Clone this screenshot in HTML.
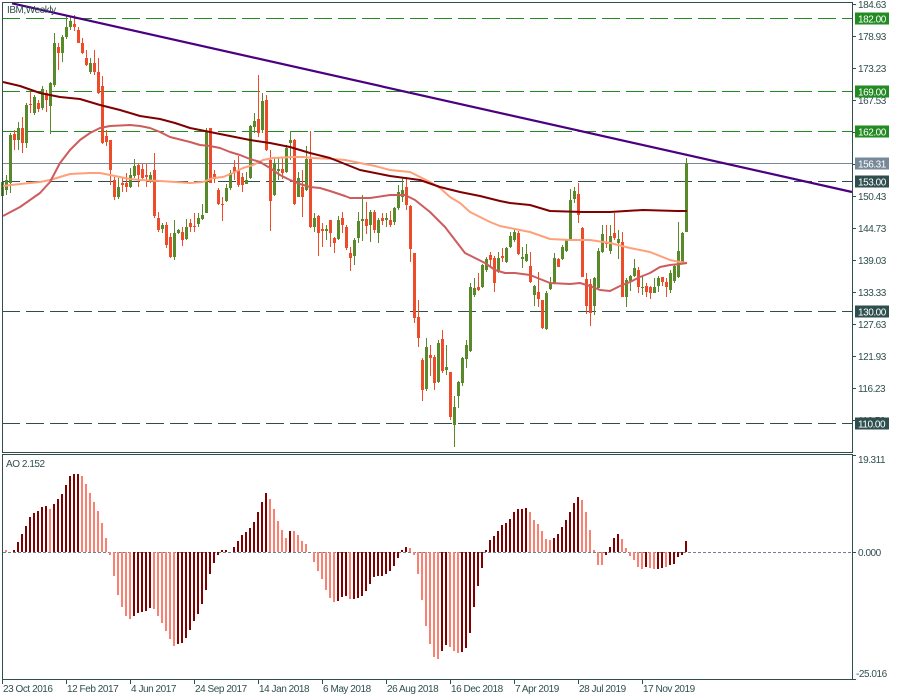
<!DOCTYPE html>
<html><head><meta charset="utf-8"><style>
html,body{margin:0;padding:0;background:#fff;}
svg{display:block;}
text{font-family:"Liberation Sans",sans-serif;font-size:10px;fill:#2F4F4F;letter-spacing:-0.45px;}
</style></head><body>
<svg width="900" height="700" viewBox="0 0 900 700" xmlns="http://www.w3.org/2000/svg">
<rect x="0" y="0" width="900" height="700" fill="#fff"/>

<!-- horizontal level lines -->
<g fill="none" stroke-width="1" shape-rendering="crispEdges">
<line x1="2" y1="18.5" x2="852" y2="18.5" stroke="#228B22" stroke-dasharray="18 6"/>
<line x1="2" y1="91.5" x2="852" y2="91.5" stroke="#228B22" stroke-dasharray="18 6"/>
<line x1="2" y1="131.5" x2="852" y2="131.5" stroke="#228B22" stroke-dasharray="18 6"/>
<line x1="2" y1="163.5" x2="852" y2="163.5" stroke="#778899"/>
<line x1="2" y1="181.5" x2="852" y2="181.5" stroke="#2F4F4F" stroke-dasharray="18 6"/>
<line x1="2" y1="311.5" x2="852" y2="311.5" stroke="#2F4F4F" stroke-dasharray="18 6"/>
<line x1="2" y1="423.5" x2="852" y2="423.5" stroke="#2F4F4F" stroke-dasharray="18 6"/>
</g>

<!-- candles green -->
<path shape-rendering="crispEdges" fill="#588a2c" d="
M1 182h3v14h-3z M2 173h1v24h-1z
M5 180h3v10h-3z M6 175h1v20h-1z
M9 135h3v48h-3z M10 133h1v60h-1z
M17 128h3v12h-3z M18 122h1v28h-1z
M25 105h3v38h-3z M26 103h1v45h-1z
M33 97h3v16h-3z M34 95h1v20h-1z
M41 89h3v19h-3z M42 86h1v24h-1z
M49 83h3v23h-3z M50 82h1v52h-1z
M53 43h3v42h-3z M54 33h1v54h-1z
M61 37h3v16h-3z M62 35h1v27h-1z
M65 27h3v10h-3z M66 16h1v23h-1z
M69 21h3v6h-3z M70 16h1v14h-1z
M89 63h3v9h-3z M90 58h1v16h-1z
M117 187h3v10h-3z M118 178h1v21h-1z
M129 175h3v12h-3z M130 168h1v20h-1z
M133 166h3v10h-3z M134 159h1v19h-1z
M149 175h3v7h-3z M150 172h1v11h-1z
M161 225h3v4h-3z M162 223h1v10h-1z
M173 233h3v24h-3z M174 220h1v40h-1z
M177 230h3v3h-3z M178 229h1v5h-1z
M185 227h3v12h-3z M186 219h1v21h-1z
M197 218h3v6h-3z M198 213h1v14h-1z
M201 215h3v4h-3z M202 204h1v16h-1z
M205 132h3v81h-3z M206 128h1v85h-1z
M225 188h3v13h-3z M226 184h1v18h-1z
M229 173h3v15h-3z M230 170h1v20h-1z
M245 180h3v4h-3z M246 172h1v12h-1z
M249 126h3v52h-3z M250 125h1v54h-1z
M253 121h3v6h-3z M254 113h1v20h-1z
M261 101h3v29h-3z M262 93h1v40h-1z
M273 163h3v32h-3z M274 157h1v39h-1z
M277 169h3v2h-3z M278 158h1v22h-1z
M285 148h3v24h-3z M286 145h1v28h-1z
M289 140h3v3h-3z M290 131h1v29h-1z
M297 178h3v19h-3z M298 172h1v25h-1z
M305 159h3v31h-3z M306 146h1v45h-1z
M313 218h3v9h-3z M314 213h1v19h-1z
M325 229h3v2h-3z M326 225h1v15h-1z
M337 220h3v19h-3z M338 216h1v24h-1z
M353 240h3v16h-3z M354 238h1v27h-1z
M357 221h3v17h-3z M358 212h1v31h-1z
M361 219h3v2h-3z M362 195h1v46h-1z
M369 212h3v13h-3z M370 210h1v32h-1z
M377 220h3v13h-3z M378 218h1v25h-1z
M385 218h3v2h-3z M386 213h1v14h-1z
M393 208h3v14h-3z M394 207h1v18h-1z
M397 192h3v16h-3z M398 185h1v25h-1z
M401 190h3v7h-3z M402 178h1v24h-1z
M425 347h3v42h-3z M426 338h1v53h-1z
M437 343h3v39h-3z M438 340h1v43h-1z
M445 367h3v3h-3z M446 345h1v30h-1z
M453 407h3v18h-3z M454 396h1v51h-1z
M457 382h3v14h-3z M458 381h1v27h-1z
M461 358h3v25h-3z M462 357h1v29h-1z
M465 345h3v14h-3z M466 340h1v28h-1z
M469 287h3v64h-3z M470 283h1v69h-1z
M473 288h3v7h-3z M474 278h1v19h-1z
M481 265h3v22h-3z M482 264h1v24h-1z
M485 259h3v11h-3z M486 257h1v15h-1z
M497 258h3v14h-3z M498 252h1v21h-1z
M505 248h3v14h-3z M506 247h1v16h-1z
M509 236h3v11h-3z M510 232h1v16h-1z
M513 232h3v8h-3z M514 228h1v14h-1z
M521 257h3v2h-3z M522 247h1v21h-1z
M525 254h3v7h-3z M526 244h1v18h-1z
M533 286h3v9h-3z M534 285h1v21h-1z
M545 293h3v36h-3z M546 291h1v39h-1z
M549 283h3v6h-3z M550 277h1v13h-1z
M553 258h3v25h-3z M554 253h1v30h-1z
M561 247h3v12h-3z M562 245h1v15h-1z
M565 240h3v11h-3z M566 240h1v12h-1z
M569 200h3v40h-3z M570 189h1v52h-1z
M573 191h3v8h-3z M574 187h1v16h-1z
M593 278h3v28h-3z M594 277h1v38h-1z
M597 251h3v37h-3z M598 248h1v41h-1z
M601 234h3v18h-3z M602 225h1v28h-1z
M609 236h3v15h-3z M610 225h1v29h-1z
M617 239h3v4h-3z M618 230h1v29h-1z
M625 280h3v17h-3z M626 278h1v29h-1z
M629 276h3v5h-3z M630 275h1v16h-1z
M633 268h3v8h-3z M634 259h1v18h-1z
M641 287h3v1h-3z M642 276h1v19h-1z
M653 287h3v6h-3z M654 278h1v15h-1z
M657 278h3v8h-3z M658 276h1v16h-1z
M669 273h3v17h-3z M670 270h1v23h-1z
M673 266h3v15h-3z M674 264h1v19h-1z
M677 251h3v26h-3z M678 222h1v56h-1z
M681 233h3v29h-3z M682 232h1v31h-1z
M685 163h3v69h-3z M686 158h1v74h-1z"/>

<!-- candles red -->
<path shape-rendering="crispEdges" fill="#ee4b2b" d="
M13 134h3v6h-3z M14 130h1v20h-1z
M21 128h3v15h-3z M22 117h1v36h-1z
M29 104h3v1h-3z M30 92h1v21h-1z
M37 103h3v6h-3z M38 100h1v12h-1z
M45 93h3v7h-3z M46 90h1v22h-1z
M57 47h3v6h-3z M58 43h1v27h-1z
M73 24h3v3h-3z M74 15h1v16h-1z
M77 30h3v13h-3z M78 27h1v16h-1z
M81 43h3v10h-3z M82 38h1v16h-1z
M85 58h3v7h-3z M86 50h1v16h-1z
M93 63h3v9h-3z M94 50h1v25h-1z
M97 72h3v21h-3z M98 58h1v36h-1z
M101 86h3v57h-3z M102 76h1v68h-1z
M105 136h3v6h-3z M106 130h1v16h-1z
M109 140h3v30h-3z M110 140h1v45h-1z
M113 180h3v17h-3z M114 177h1v23h-1z
M121 183h3v2h-3z M122 178h1v14h-1z
M125 183h3v4h-3z M126 173h1v19h-1z
M137 165h3v10h-3z M138 163h1v24h-1z
M141 169h3v9h-3z M142 164h1v15h-1z
M145 175h3v2h-3z M146 164h1v23h-1z
M153 170h3v46h-3z M154 153h1v65h-1z
M157 218h3v12h-3z M158 212h1v20h-1z
M165 225h3v20h-3z M166 222h1v26h-1z
M169 237h3v20h-3z M170 233h1v25h-1z
M181 232h3v8h-3z M182 227h1v19h-1z
M189 223h3v4h-3z M190 219h1v13h-1z
M193 226h3v1h-3z M194 213h1v19h-1z
M209 128h3v55h-3z
M213 174h3v5h-3z M214 170h1v13h-1z
M217 190h3v14h-3z M218 188h1v17h-1z
M221 204h3v1h-3z M222 197h1v24h-1z
M233 167h3v5h-3z M234 160h1v20h-1z
M237 170h3v15h-3z M238 156h1v31h-1z
M241 177h3v8h-3z M242 173h1v19h-1z
M257 119h3v14h-3z M258 75h1v62h-1z
M265 100h3v50h-3z M266 95h1v56h-1z
M269 160h3v41h-3z M270 150h1v81h-1z
M281 169h3v4h-3z M282 158h1v21h-1z
M293 140h3v64h-3z M294 139h1v66h-1z
M301 187h3v10h-3z M302 170h1v47h-1z
M309 159h3v68h-3z M310 131h1v97h-1z
M317 216h3v17h-3z M318 215h1v41h-1z
M321 229h3v2h-3z M322 223h1v24h-1z
M329 220h3v13h-3z M330 220h1v27h-1z
M333 238h3v5h-3z M334 237h1v16h-1z
M341 218h3v7h-3z M342 212h1v21h-1z
M345 227h3v21h-3z M346 225h1v25h-1z
M349 253h3v5h-3z M350 247h1v24h-1z
M365 219h3v7h-3z M366 202h1v32h-1z
M373 212h3v18h-3z M374 210h1v23h-1z
M381 218h3v3h-3z M382 213h1v12h-1z
M389 220h3v5h-3z M390 211h1v16h-1z
M405 187h3v18h-3z M406 177h1v33h-1z
M409 206h3v43h-3z M410 205h1v57h-1z
M413 253h3v65h-3z M414 253h1v70h-1z
M417 317h3v21h-3z M418 300h1v47h-1z
M421 360h3v30h-3z M422 358h1v43h-1z
M429 355h3v3h-3z M430 345h1v31h-1z
M433 357h3v26h-3z M434 355h1v35h-1z
M441 339h3v32h-3z M442 330h1v43h-1z
M449 372h3v45h-3z M450 372h1v48h-1z
M477 287h3v3h-3z M478 273h1v18h-1z
M489 255h3v5h-3z M490 252h1v16h-1z
M493 258h3v25h-3z M494 256h1v36h-1z
M501 256h3v2h-3z M502 248h1v14h-1z
M517 233h3v21h-3z M518 231h1v24h-1z
M529 266h3v16h-3z M530 252h1v31h-1z
M537 292h3v7h-3z M538 272h1v35h-1z
M541 300h3v28h-3z M542 300h1v29h-1z
M557 259h3v8h-3z M558 258h1v9h-1z
M577 194h3v21h-3z M578 183h1v40h-1z
M581 228h3v49h-3z M582 227h1v50h-1z
M585 279h3v27h-3z M586 273h1v41h-1z
M589 284h3v29h-3z M590 279h1v47h-1z
M605 243h3v1h-3z M606 225h1v23h-1z
M613 233h3v5h-3z M614 213h1v27h-1z
M621 242h3v55h-3z M622 232h1v65h-1z
M637 270h3v17h-3z M638 267h1v26h-1z
M645 286h3v6h-3z M646 283h1v14h-1z
M649 287h3v6h-3z M650 286h1v13h-1z
M661 277h3v5h-3z M662 277h1v9h-1z
M665 282h3v5h-3z M666 278h1v19h-1z"/>

<!-- moving averages -->
<g fill="none" stroke-width="2" stroke-linejoin="round">
<polyline stroke="#FFA07A" points="3,186 20,184 40,182 50,180 70,174 90,173 100,173 110,175 120,177 130,179 140,180 160,181 175,182 190,183 203,182 213,178 223,177 233,173 243,168 253,165 263,160 273,158 293,157 303,157 313,158 333,159 345,160 360,163 375,166 390,170 410,172 420,177 430,182 440,188 450,197 460,203 470,212 480,217 490,222 500,226 515,229 530,232 550,239 570,240 590,240 610,243 630,248 650,252 670,260 680,262 687,263"/>
<polyline stroke="#CD5C5C" points="3,216 20,207 40,193 50,182 60,163 70,150 80,140 90,133 100,128 110,126 130,125 140,126 150,128 160,132 170,137 190,142 200,145 210,146 220,148 230,152 240,155 250,159 260,162 270,168 280,175 290,180 300,184 310,187 320,188 330,191 345,196 350,198 370,198 390,195 405,195 415,200 430,212 445,227 455,240 465,253 475,258 485,263 495,270 505,273 515,273 530,275 550,283 570,284 580,283 590,286 600,290 610,291 620,286 630,282 640,277 650,273 660,267 670,265 680,264 687,263"/>
<polyline stroke="#800000" points="3,82 20,86 40,93 60,97 80,99 100,105 120,110 140,116 160,119 175,123 190,128 210,132 230,136 250,140 270,143 290,147 310,153 330,158 345,164 360,170 390,176 420,180 440,187 460,192 480,196 500,201 510,203 530,205 550,211 583,212 610,212 643,210 677,211 687,211"/>
</g>
<line x1="12" y1="3.3" x2="852" y2="192" stroke="#4B0082" stroke-width="2.2"/>

<!-- AO zero line -->
<line x1="3" y1="552.5" x2="852" y2="552.5" stroke="#708090" stroke-width="1" stroke-dasharray="3 2" shape-rendering="crispEdges"/>

<!-- AO maroon bars -->
<path shape-rendering="crispEdges" fill="#800000" d="
M13 550h2V552h-2z M17 542h2V552h-2z M21 534h2V552h-2z M25 526h2V552h-2z M29 517h2V552h-2z M33 513h2V552h-2z M37 511h2V552h-2z M41 507h2V552h-2z M45 506h2V552h-2z
M53 504h2V552h-2z M57 499h2V552h-2z M61 494h2V552h-2z M65 485h2V552h-2z M69 476h2V552h-2z M73 474h2V552h-2z M77 474h2V552h-2z
M133 552h2V616h-2z M137 552h2V613h-2z M141 552h2V612h-2z M145 552h2V611h-2z M149 552h2V608h-2z
M177 552h2V644h-2z M181 552h2V643h-2z M185 552h2V638h-2z M189 552h2V630h-2z M193 552h2V621h-2z M197 552h2V614h-2z M201 552h2V604h-2z M205 552h2V590h-2z M209 552h2V574h-2z M213 552h2V563h-2z M217 552h2V555h-2z
M221 550h2V552h-2z M225 550h2V552h-2z M233 547h2V552h-2z M237 541h2V552h-2z M241 535h2V552h-2z M245 532h2V552h-2z M249 528h2V552h-2z M253 522h2V552h-2z M257 512h2V552h-2z M261 502h2V552h-2z M265 493h2V552h-2z
M289 531h2V552h-2z
M337 552h2V601h-2z M341 552h2V597h-2z M345 552h2V596h-2z M353 552h2V599h-2z M357 552h2V598h-2z M361 552h2V596h-2z M365 552h2V591h-2z M369 552h2V584h-2z M373 552h2V577h-2z M377 552h2V576h-2z M381 552h2V576h-2z M385 552h2V574h-2z M389 552h2V571h-2z M393 552h2V566h-2z M397 552h2V558h-2z
M401 550h2V552h-2z M405 547h2V552h-2z
M441 552h2V651h-2z M445 552h2V645h-2z M461 552h2V652h-2z M465 552h2V648h-2z M469 552h2V633h-2z M473 552h2V607h-2z M477 552h2V586h-2z M481 552h2V568h-2z
M485 550h2V552h-2z M489 540h2V552h-2z M493 536h2V552h-2z M497 531h2V552h-2z M501 525h2V552h-2z M505 523h2V552h-2z M509 519h2V552h-2z M513 512h2V552h-2z M517 509h2V552h-2z M521 509h2V552h-2z M525 508h2V552h-2z
M553 538h2V552h-2z M557 534h2V552h-2z M561 527h2V552h-2z M565 520h2V552h-2z M569 512h2V552h-2z M573 503h2V552h-2z M577 497h2V552h-2z
M605 552h2V555h-2z M609 547h2V552h-2z M613 538h2V552h-2z M617 534h2V552h-2z
M645 552h2V567h-2z M657 552h2V569h-2z M661 552h2V568h-2z M669 552h2V565h-2z M673 552h2V564h-2z M677 552h2V557h-2z M681 552h2V555h-2z
M685 541h2V552h-2z"/>

<!-- AO salmon bars -->
<path shape-rendering="crispEdges" fill="#FA8072" d="
M5 550h2V552h-2z M49 509h2V552h-2z
M81 476h2V552h-2z M85 484h2V552h-2z M89 493h2V552h-2z M93 502h2V552h-2z M97 511h2V552h-2z M101 523h2V552h-2z M105 538h2V552h-2z
M109 552h2V555h-2z M113 552h2V576h-2z M117 552h2V595h-2z M121 552h2V607h-2z M125 552h2V616h-2z M129 552h2V619h-2z
M153 552h2V609h-2z M157 552h2V616h-2z M161 552h2V623h-2z M165 552h2V631h-2z M169 552h2V639h-2z M173 552h2V646h-2z
M269 499h2V552h-2z M273 509h2V552h-2z M277 521h2V552h-2z M281 530h2V552h-2z M285 538h2V552h-2z M293 531h2V552h-2z M297 535h2V552h-2z M301 541h2V552h-2z M305 544h2V552h-2z
M313 552h2V562h-2z M317 552h2V571h-2z M321 552h2V579h-2z M325 552h2V590h-2z M329 552h2V598h-2z M333 552h2V602h-2z M349 552h2V599h-2z
M409 548h2V552h-2z M413 552h2V555h-2z M417 552h2V574h-2z M421 552h2V600h-2z M425 552h2V626h-2z M429 552h2V644h-2z M433 552h2V657h-2z M437 552h2V659h-2z
M449 552h2V647h-2z M453 552h2V651h-2z M457 552h2V653h-2z
M529 512h2V552h-2z M533 520h2V552h-2z M537 524h2V552h-2z M541 531h2V552h-2z M545 539h2V552h-2z M549 540h2V552h-2z
M581 500h2V552h-2z M585 512h2V552h-2z M589 530h2V552h-2z M593 550h2V552h-2z
M597 552h2V565h-2z M601 552h2V565h-2z
M621 539h2V552h-2z M625 548h2V552h-2z M629 552h2V556h-2z M633 552h2V560h-2z M637 552h2V567h-2z M641 552h2V569h-2z M649 552h2V568h-2z M653 552h2V569h-2z M665 552h2V567h-2z"/>

<!-- frames -->
<g fill="none" stroke="#2F4F4F" stroke-width="1" shape-rendering="crispEdges">
<rect x="2.5" y="2.5" width="850" height="450"/>
<rect x="2.5" y="454.5" width="850" height="225"/>
<!-- right axis ticks -->
<path d="M852 4.5h4M852 36.5h4M852 68.5h4M852 100.5h4M852 132.5h4M852 164.5h4M852 196.5h4M852 228.5h4M852 260.5h4M852 292.5h4M852 324.5h4M852 356.5h4M852 388.5h4M852 420.5h4M852 455.5h4M852 552.5h4M852 679.5h4"/>
<!-- bottom ticks -->
<path d="M2.5 680v4M66.5 680v4M130.5 680v4M194.5 680v4M258.5 680v4M322.5 680v4M386.5 680v4M450.5 680v4M514.5 680v4M578.5 680v4M642.5 680v4"/>
</g>

<!-- titles -->
<text x="7" y="13">IBM,Weekly</text>
<text x="6" y="467">AO 2.152</text>

<!-- price axis labels -->
<g>
<text x="858" y="8">184.63</text>
<text x="858" y="40">178.93</text>
<text x="858" y="72">173.23</text>
<text x="858" y="104">167.53</text>
<text x="858" y="136">161.83</text>
<text x="858" y="168">156.13</text>
<text x="858" y="200">150.43</text>
<text x="858" y="232">144.73</text>
<text x="858" y="264">139.03</text>
<text x="858" y="296">133.33</text>
<text x="858" y="328">127.63</text>
<text x="858" y="360">121.93</text>
<text x="858" y="392">116.23</text>
<text x="858" y="424">110.53</text>
<text x="858" y="463">19.311</text>
<text x="858" y="556">0.000</text>
<text x="856" y="677">-25.016</text>
</g>

<!-- level label boxes -->
<rect x="855" y="12.5" width="34" height="12" fill="#228B22"/>
<text x="858" y="22.5" style="fill:#fff">182.00</text>
<rect x="855" y="85.5" width="34" height="12" fill="#228B22"/>
<text x="858" y="95.5" style="fill:#fff">169.00</text>
<rect x="855" y="125.5" width="34" height="12" fill="#228B22"/>
<text x="858" y="135.5" style="fill:#fff">162.00</text>
<rect x="855" y="157.5" width="34" height="12" fill="#778899"/>
<text x="858" y="167.5" style="fill:#fff">156.31</text>
<rect x="855" y="175.5" width="34" height="12" fill="#2F4F4F"/>
<text x="858" y="185.5" style="fill:#fff">153.00</text>
<rect x="855" y="305.5" width="34" height="12" fill="#2F4F4F"/>
<text x="858" y="315.5" style="fill:#fff">130.00</text>
<rect x="855" y="417.5" width="34" height="12" fill="#2F4F4F"/>
<text x="858" y="427.5" style="fill:#fff">110.00</text>

<!-- date labels -->
<g>
<text x="3" y="692">23 Oct 2016</text>
<text x="67" y="692">12 Feb 2017</text>
<text x="131" y="692">4 Jun 2017</text>
<text x="195" y="692">24 Sep 2017</text>
<text x="259" y="692">14 Jan 2018</text>
<text x="323" y="692">6 May 2018</text>
<text x="387" y="692">26 Aug 2018</text>
<text x="451" y="692">16 Dec 2018</text>
<text x="515" y="692">7 Apr 2019</text>
<text x="579" y="692">28 Jul 2019</text>
<text x="643" y="692">17 Nov 2019</text>
</g>
</svg>
</body></html>
